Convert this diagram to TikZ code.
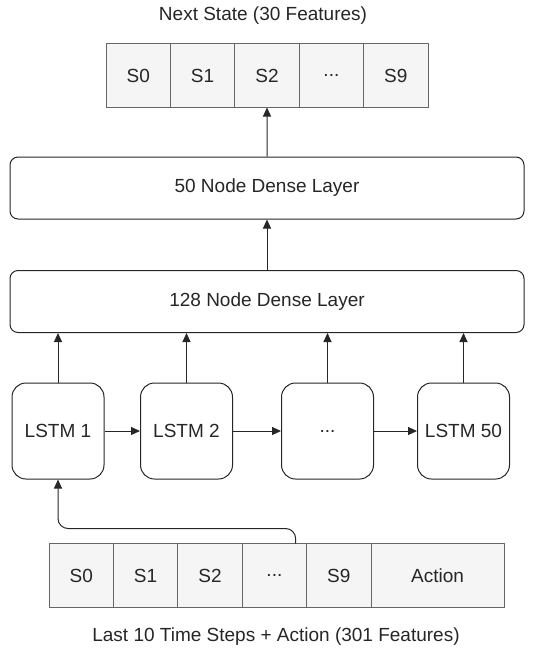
\documentclass[tikz,border=0pt]{standalone}
\usepackage{fontspec}
\setmainfont{Liberation Sans}
\usetikzlibrary{positioning,arrows.meta}
\begin{document}
\begin{tikzpicture}[x=1pt,y=-1pt,
  every node/.style={font=\fontsize{19}{22}\selectfont, text=black!85},
  cell/.style={draw=black!60, fill=black!4, line width=0.8pt, minimum width=64.4pt,
    minimum height=64pt, inner sep=0pt, outer sep=0pt},
  layer/.style={draw=black!85, line width=1pt, rounded corners=8pt,
    minimum width=514pt, minimum height=62pt},
  lstm/.style={draw=black!85, line width=1pt, rounded corners=14pt,
    minimum width=92pt, minimum height=96pt},
  link/.style={-{Triangle[length=9pt,width=8pt]}, line width=1pt, draw=black!85}]
  \useasboundingbox (0,0) rectangle (539,657);

  % output state
  \node (title) at (263,16) {Next State (30 Features)};
  \node[cell] (nx0) at (138.2,75.5) {S0};
  \node[cell, right=0pt of nx0] (nx1) {S1};
  \node[cell, right=0pt of nx1] (nx2) {S2};
  \node[cell, right=0pt of nx2] (nx3) {...};
  \node[cell, right=0pt of nx3] (nx9) {S9};

  % dense layers
  \node[layer] (dense50) at (267,188) {50 Node Dense Layer};
  \node[layer] (dense128) at (267,301.5) {128 Node Dense Layer};

  % lstm cells
  \node[lstm] (l1) at (58,431) {LSTM 1};
  \node[lstm] (l2) at (186.5,431) {LSTM 2};
  \node[lstm] (ld) at (327.5,431) {...};
  \node[lstm] (l50) at (463.5,431) {LSTM 50};

  % input sequence
  \node[cell] (in0) at (81.2,575.5) {S0};
  \node[cell, right=0pt of in0] (in1) {S1};
  \node[cell, right=0pt of in1] (in2) {S2};
  \node[cell, right=0pt of in2] (in3) {...};
  \node[cell, right=0pt of in3] (in9) {S9};
  \node[cell, right=0pt of in9, minimum width=133pt] (act) {Action};
  \node (caption) at (276,637) {Last 10 Time Steps + Action (301 Features)};

  \draw[link] (dense50) -- (nx2);
  \draw[link] (dense128) -- (dense50);
  \foreach \l in {l1,l2,ld,l50}
    \draw[link] (\l.north) -- (\l |- dense128.south);
  \draw[link] (l1) -- (l2);
  \draw[link] (l2) -- (ld);
  \draw[link] (ld) -- (l50);
  \draw[link, rounded corners=10pt] ([xshift=-11pt]in3.north east) -- ++(0,-15) -| (l1.south);
\end{tikzpicture}
\end{document}
